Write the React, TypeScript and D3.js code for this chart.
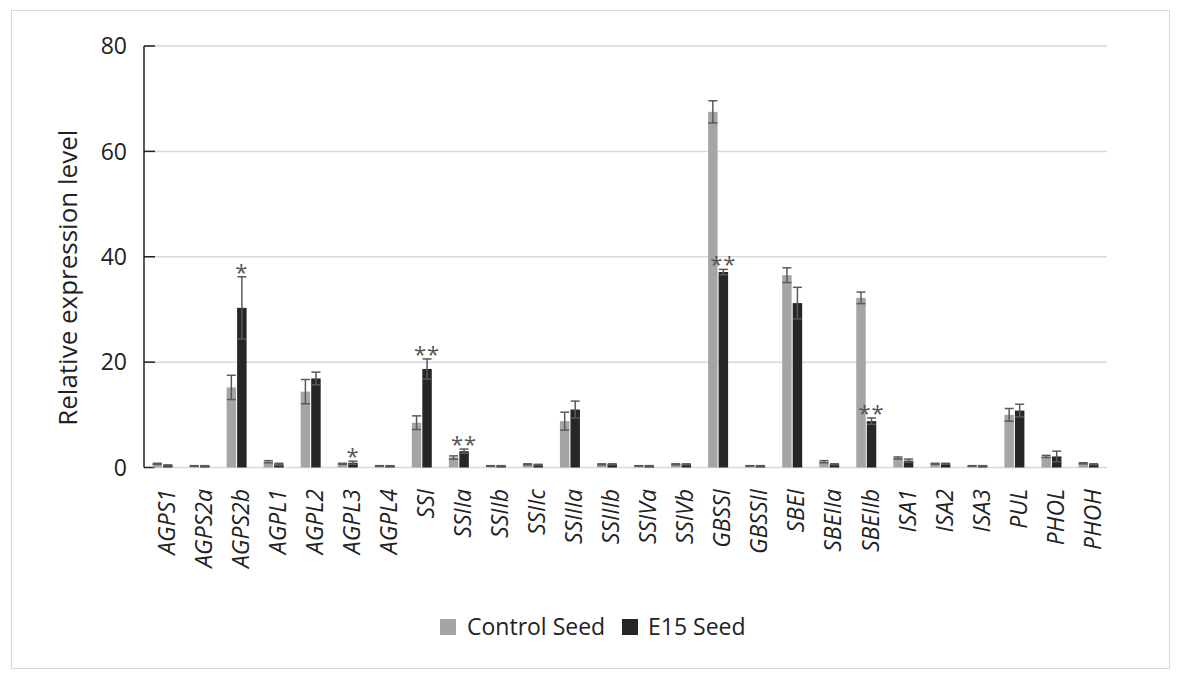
import React from "react";
import * as d3 from "d3";

const genes = [
  "AGPS1", "AGPS2a", "AGPS2b", "AGPL1", "AGPL2", "AGPL3", "AGPL4", "SSI", "SSIIa", "SSIIb",
  "SSIIc", "SSIIIa", "SSIIIb", "SSIVa", "SSIVb", "GBSSI", "GBSSII", "SBEI", "SBEIIa", "SBEIIb",
  "ISA1", "ISA2", "ISA3", "PUL", "PHOL", "PHOH",
];

const controlMean = [0.7, 0.3, 15.2, 1.1, 14.4, 0.7, 0.3, 8.5, 1.9, 0.3, 0.6, 8.8, 0.6, 0.3, 0.6, 67.5, 0.3, 36.5, 1.1, 32.2, 1.8, 0.7, 0.3, 10.0, 2.1, 0.8];
const controlErr = [0.1, 0.05, 2.3, 0.2, 2.3, 0.1, 0.05, 1.3, 0.3, 0.05, 0.1, 1.7, 0.1, 0.05, 0.1, 2.1, 0.05, 1.4, 0.2, 1.1, 0.2, 0.1, 0.05, 1.2, 0.2, 0.1];
const e15Mean = [0.4, 0.3, 30.3, 0.6, 16.9, 0.9, 0.3, 18.7, 3.1, 0.3, 0.5, 11.0, 0.6, 0.3, 0.6, 37.1, 0.3, 31.2, 0.6, 8.8, 1.3, 0.7, 0.3, 10.8, 2.1, 0.6];
const e15Err = [0.1, 0.05, 5.9, 0.2, 1.2, 0.3, 0.05, 1.9, 0.4, 0.05, 0.1, 1.6, 0.1, 0.05, 0.1, 0.5, 0.05, 3.0, 0.1, 0.6, 0.3, 0.1, 0.05, 1.2, 1.0, 0.1];
const e15Sig = ["", "", "*", "", "", "*", "", "**", "**", "", "", "", "", "", "", "**", "", "", "", "**", "", "", "", "", "", ""];

const seriesNames = ["Control Seed", "E15 Seed"];
const seriesColors = ["#a5a5a5", "#262626"];
const yTicks = [0, 20, 40, 60, 80];

const font = "'Open Sans', sans-serif";

export default function App() {
  const width = 1179;
  const height = 679;
  const left = 144;
  const right = 1107;
  const top = 46;
  const bottom = 467.5;

  const x = d3.scaleBand<string>().domain(genes).range([left, right]).paddingInner(0.46).paddingOuter(0.23);
  const xs = d3.scaleBand<string>().domain(seriesNames).range([0, x.bandwidth()]).paddingInner(0.1);
  const y = d3.scaleLinear().domain([0, 80]).range([bottom, top]);

  const series = [
    { name: seriesNames[0], mean: controlMean, err: controlErr },
    { name: seriesNames[1], mean: e15Mean, err: e15Err },
  ];
  const bw = xs.bandwidth();

  return (
    <svg width={width} height={height} style={{ position: "absolute", left: 0, top: 0 }}>
      <rect x={0} y={0} width={width} height={height} fill="#fff" />
      <rect x={11.5} y={10.5} width={1158} height={658} fill="none" stroke="#d9d9d9" />

      {yTicks.map((t) => (
        <g key={t}>
          <line x1={left} x2={right} y1={y(t)} y2={y(t)} stroke="#d9d9d9" strokeWidth={1.5} />
          <line x1={left} x2={left + 11} y1={y(t)} y2={y(t)} stroke="#222" strokeWidth={1.5} />
          <text x={127} y={y(t)} dy="0.36em" textAnchor="end" fontFamily={font} fontSize={23} fill="#222">
            {t}
          </text>
        </g>
      ))}
      <line x1={left} x2={left} y1={top} y2={bottom} stroke="#222" strokeWidth={1.5} />

      <text
        transform={`translate(77, ${(top + bottom) / 2 + 21}) rotate(-90)`}
        textAnchor="middle"
        fontFamily={font}
        fontSize={26}
        fill="#222"
      >
        Relative expression level
      </text>

      {series.map((s, si) => (
        <g key={s.name}>
          {genes.map((g, i) => {
            const bx = (x(g) ?? 0) + (xs(s.name) ?? 0);
            const cx = bx + bw / 2;
            const v = s.mean[i];
            const e = s.err[i];
            return (
              <g key={g}>
                <rect x={bx} y={y(v)} width={bw} height={bottom - y(v)} fill={seriesColors[si]} />
                <line x1={cx} x2={cx} y1={y(v + e)} y2={y(Math.max(0, v - e))} stroke="#595959" strokeWidth={1.5} />
                <line x1={cx - 4.5} x2={cx + 4.5} y1={y(v + e)} y2={y(v + e)} stroke="#595959" strokeWidth={1.5} />
                <line x1={cx - 4.5} x2={cx + 4.5} y1={y(Math.max(0, v - e))} y2={y(Math.max(0, v - e))} stroke="#595959" strokeWidth={1.5} />
              </g>
            );
          })}
        </g>
      ))}

      {genes.map((g, i) =>
        e15Sig[i] ? (
          <text
            key={g}
            x={(x(g) ?? 0) + (xs(seriesNames[1]) ?? 0) + bw / 2}
            y={y(e15Mean[i] + e15Err[i]) + 3}
            textAnchor="middle"
            fontFamily={font}
            fontSize={22}
            letterSpacing={1}
            fill="#555"
          >
            {e15Sig[i]}
          </text>
        ) : null
      )}

      {genes.map((g) => (
        <text
          key={g}
          transform={`translate(${(x(g) ?? 0) + x.bandwidth() / 2 + 4}, 489) rotate(-90)`}
          textAnchor="end"
          dy="0.36em"
          fontFamily={font}
          fontStyle="italic"
          fontSize={23}
          fill="#222"
        >
          {g}
        </text>
      ))}

      <g fontFamily={font} fontSize={23} fill="#222">
        <rect x={440} y={619} width={16} height={16} fill={seriesColors[0]} />
        <text x={467} y={635}>{seriesNames[0]}</text>
        <rect x={622} y={619} width={16} height={16} fill={seriesColors[1]} />
        <text x={648} y={635}>{seriesNames[1]}</text>
      </g>
    </svg>
  );
}
